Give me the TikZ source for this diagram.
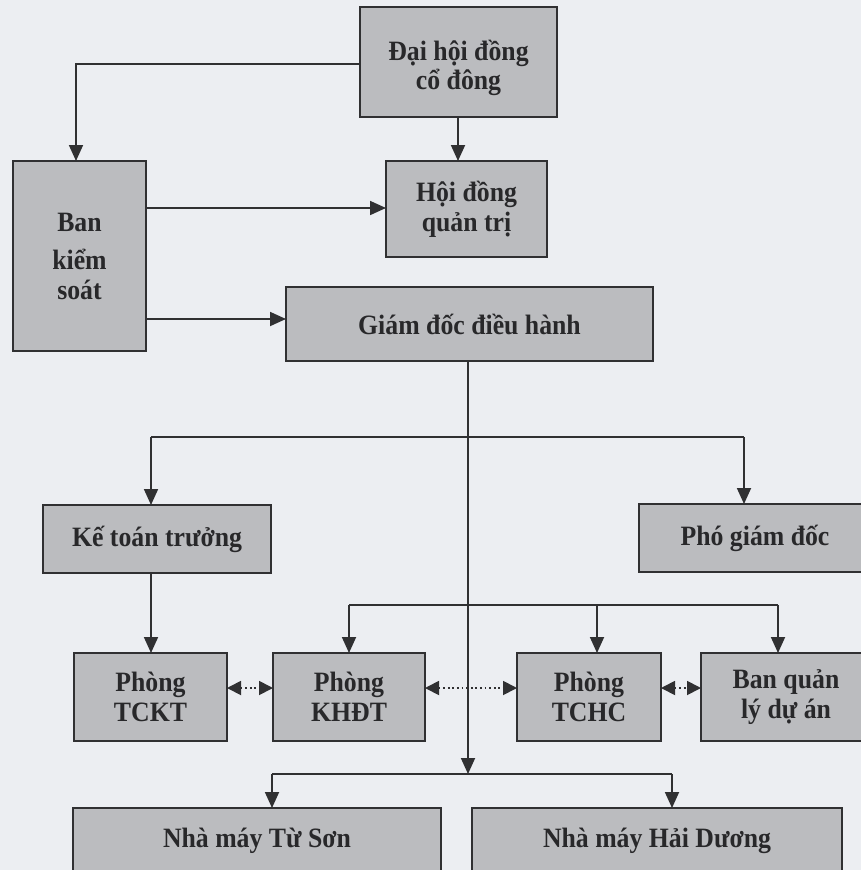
\documentclass[tikz,border=0pt]{standalone}
\usepackage{fontspec}
\setmainfont{Liberation Serif}[FakeStretch=0.92]
\usetikzlibrary{arrows.meta}
\definecolor{bg}{HTML}{ECEEF2}
\definecolor{boxfill}{HTML}{BBBCBF}
\definecolor{ink}{HTML}{303032}
\definecolor{txt}{HTML}{28282A}
\tikzset{
  box/.style={draw=ink, line width=1.8pt, fill=boxfill, inner sep=0pt, outer sep=0pt,
    align=center, text=txt, font=\bfseries\fontsize{28}{30}\selectfont},
  arr/.style={draw=ink, line width=1.8pt, -{Triangle[length=16pt,width=14pt]}},
  link/.style={draw=ink, line width=1.8pt},
  dots/.style={draw=ink, line width=1.8pt, dash pattern=on 1.8pt off 2.8pt,
    {Triangle[length=14pt,width=14pt]}-{Triangle[length=14pt,width=14pt]}}
}
\begin{document}
\begin{tikzpicture}[x=1pt,y=-1pt]
\useasboundingbox (0,0) rectangle (861,870);
\fill[bg] (0,0) rectangle (861,870);
\clip (0,0) rectangle (861,870);

% boxes
\node[box, minimum width=197pt, minimum height=110pt] (dh) at (458.5,62) {\raisebox{-7pt}[\height][\depth]{\begin{tabular}{@{}c@{}}Đại hội đồng\\[-1pt]cổ đông\end{tabular}}};
\node[box, minimum width=161pt, minimum height=96pt] (hd) at (466.5,209) {Hội đồng\\quản trị};
\node[box, minimum width=133pt, minimum height=190pt] (bks) at (79.5,256) {Ban\\[8pt]kiểm\\[0pt]soát};
\node[box, minimum width=367pt, minimum height=74pt] (gd) at (469.5,324) {Giám đốc điều hành};
\node[box, minimum width=228pt, minimum height=68pt] (kt) at (157,539) {Kế toán trưởng};
\node[box, minimum width=232pt, minimum height=68pt] (pgd) at (755,538) {Phó giám đốc};
\node[box, minimum width=153pt, minimum height=88pt] (tckt) at (150.5,697) {Phòng\\TCKT};
\node[box, minimum width=152pt, minimum height=88pt] (khdt) at (349,697) {Phòng\\KHĐT};
\node[box, minimum width=144pt, minimum height=88pt] (tchc) at (589,697) {Phòng\\TCHC};
\node[box, minimum width=170pt, minimum height=88pt] (bql) at (786,697) {Ban quản\\lý dự án};
\node[box, minimum width=368pt, minimum height=66pt] (ts) at (257,841) {Nhà máy Từ Sơn};
\node[box, minimum width=370pt, minimum height=66pt] (hdg) at (657,841) {Nhà máy Hải Dương};

% junction coordinates
\coordinate (j1) at (76,64);
\coordinate (b1l) at (151,437);
\coordinate (b1r) at (744,437);
\coordinate (b2l) at (349,605);
\coordinate (b2m) at (597,605);
\coordinate (b2r) at (778,605);
\coordinate (b3l) at (272,774);
\coordinate (b3r) at (672,774);
\coordinate (m3) at (468,774);

% top part
\draw[arr] (dh.west |- j1) -- (j1) -- (j1 |- bks.north);
\draw[arr] (458,0 |- dh.south) -- (458,0 |- hd.north);
\draw[arr] (bks.east |- 0,208) -- (hd.west |- 0,208);
\draw[arr] (bks.east |- 0,319) -- (gd.west |- 0,319);

% main vertical
\draw[arr] (468,0 |- gd.south) -- (m3);

% second level
\draw[link] (b1l) -- (b1r);
\draw[arr] (b1l) -- (b1l |- kt.north);
\draw[arr] (b1r) -- (b1r |- pgd.north);

% third level
\draw[arr] (151,0 |- kt.south) -- (151,0 |- tckt.north);
\draw[link] (b2l) -- (b2r);
\draw[arr] (b2l) -- (b2l |- khdt.north);
\draw[arr] (b2m) -- (b2m |- tchc.north);
\draw[arr] (b2r) -- (b2r |- bql.north);

% dotted links
\draw[dots] (tckt.east |- 0,688) -- (khdt.west |- 0,688);
\draw[dots] (khdt.east |- 0,688) -- (tchc.west |- 0,688);
\draw[dots] (tchc.east |- 0,688) -- (bql.west |- 0,688);

% factories
\draw[link] (b3l) -- (b3r);
\draw[arr] (b3l) -- (b3l |- ts.north);
\draw[arr] (b3r) -- (b3r |- hdg.north);
\end{tikzpicture}
\end{document}
